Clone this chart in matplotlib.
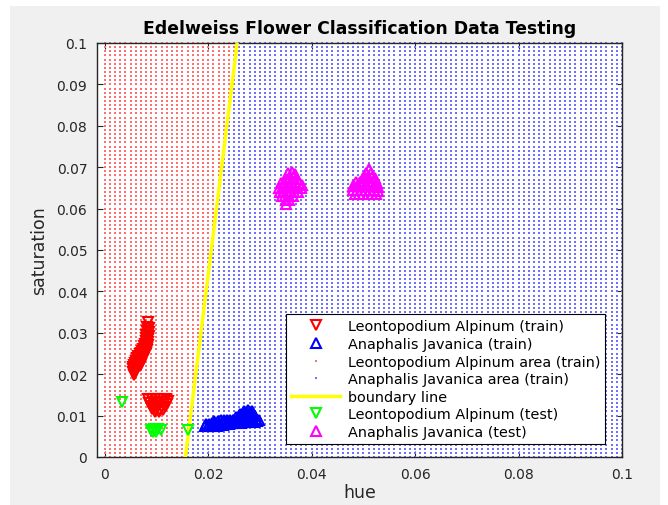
# plot.py
# edelweiss classification: train clusters, class areas and test points

import numpy as np
import matplotlib.pyplot as plt
from matplotlib.patches import Rectangle

# boundary line: hue = b0 + b1 * saturation
b0 = 0.0156
b1 = 0.1
grid_step = 0.001

leo_train_hue = [0.0083, 0.0082, 0.0086, 0.0081, 0.0085, 0.0080, 0.0085, 0.0079, 0.0084,
                 0.0079, 0.0083, 0.0078, 0.0083, 0.0076, 0.0082, 0.0074, 0.0081, 0.0072,
                 0.0080, 0.0070, 0.0078, 0.0068, 0.0076, 0.0065, 0.0071, 0.0062, 0.0068,
                 0.0074, 0.0060, 0.0066, 0.0071, 0.0058, 0.0064, 0.0070, 0.0056, 0.0062,
                 0.0068, 0.0055, 0.0061, 0.0054, 0.0060, 0.0055, 0.0058, 0.0056,
                 0.0084, 0.0091, 0.0098, 0.0105, 0.0112, 0.0119, 0.0122,
                 0.0086, 0.0093, 0.0100, 0.0107, 0.0114, 0.0120,
                 0.0089, 0.0096, 0.0103, 0.0110, 0.0117,
                 0.0092, 0.0099, 0.0106, 0.0113, 0.0097, 0.0104]
leo_train_sat = [0.0325, 0.0315, 0.0312, 0.0305, 0.0302, 0.0295, 0.0293, 0.0287, 0.0285,
                 0.0280, 0.0277, 0.0273, 0.0270, 0.0267, 0.0264, 0.0262, 0.0258, 0.0257,
                 0.0252, 0.0252, 0.0248, 0.0248, 0.0244, 0.0243, 0.0242, 0.0238, 0.0237,
                 0.0236, 0.0233, 0.0232, 0.0230, 0.0228, 0.0227, 0.0225, 0.0223, 0.0222,
                 0.0220, 0.0217, 0.0215, 0.0212, 0.0210, 0.0206, 0.0203, 0.0198,
                 0.0139, 0.0141, 0.0141, 0.0140, 0.0140, 0.0139, 0.0135,
                 0.0131, 0.0132, 0.0132, 0.0131, 0.0130, 0.0128,
                 0.0123, 0.0123, 0.0122, 0.0121, 0.0120,
                 0.0115, 0.0114, 0.0113, 0.0113, 0.0109, 0.0108]

ana_train_hue = [0.0193, 0.0199, 0.0205, 0.0211, 0.0217, 0.0223, 0.0229, 0.0235, 0.0241,
                 0.0196, 0.0202, 0.0208, 0.0214, 0.0220, 0.0226, 0.0232, 0.0238, 0.0244,
                 0.0212, 0.0218, 0.0224, 0.0230, 0.0236, 0.0242, 0.0248,
                 0.0246, 0.0252, 0.0258, 0.0264, 0.0270, 0.0276, 0.0282, 0.0288, 0.0294,
                 0.0250, 0.0256, 0.0262, 0.0268, 0.0274, 0.0280, 0.0286, 0.0292, 0.0298,
                 0.0254, 0.0260, 0.0266, 0.0272, 0.0278, 0.0284, 0.0290,
                 0.0262, 0.0268, 0.0274, 0.0280, 0.0286, 0.0270, 0.0277, 0.0284]
ana_train_sat = [0.0074, 0.0074, 0.0075, 0.0075, 0.0076, 0.0077, 0.0078, 0.0079, 0.0080,
                 0.0080, 0.0080, 0.0081, 0.0082, 0.0083, 0.0083, 0.0084, 0.0085, 0.0085,
                 0.0087, 0.0088, 0.0089, 0.0089, 0.0090, 0.0090, 0.0090,
                 0.0082, 0.0082, 0.0083, 0.0083, 0.0084, 0.0084, 0.0085, 0.0085, 0.0086,
                 0.0090, 0.0090, 0.0091, 0.0091, 0.0092, 0.0092, 0.0092, 0.0092, 0.0090,
                 0.0097, 0.0098, 0.0099, 0.0100, 0.0100, 0.0100, 0.0099,
                 0.0105, 0.0106, 0.0108, 0.0108, 0.0106, 0.0112, 0.0114, 0.0112]

leo_test_hue = [0.0033, 0.0090, 0.0096, 0.0102, 0.0108, 0.0094, 0.0100, 0.0160]
leo_test_sat = [0.0133, 0.0066, 0.0067, 0.0067, 0.0066, 0.0060, 0.0060, 0.0066]

ana_test_hue = [0.0355, 0.0362, 0.0368, 0.0350, 0.0357, 0.0364, 0.0371,
                0.0340, 0.0347, 0.0354, 0.0361, 0.0368, 0.0375, 0.0382,
                0.0337, 0.0344, 0.0351, 0.0358, 0.0365, 0.0372, 0.0379,
                0.0338, 0.0345, 0.0352, 0.0359, 0.0366, 0.0373,
                0.0342, 0.0349, 0.0356, 0.0363, 0.0350, 0.0357, 0.0350,
                0.0510, 0.0506, 0.0514, 0.0500, 0.0508, 0.0516, 0.0522,
                0.0486, 0.0494, 0.0502, 0.0510, 0.0518, 0.0526,
                0.0480, 0.0488, 0.0496, 0.0504, 0.0512, 0.0520, 0.0528,
                0.0480, 0.0488, 0.0496, 0.0504, 0.0512, 0.0520, 0.0528,
                0.0484, 0.0492, 0.0500, 0.0508, 0.0516, 0.0524]
ana_test_sat = [0.0685, 0.0688, 0.0683, 0.0672, 0.0675, 0.0676, 0.0672,
                0.0662, 0.0664, 0.0665, 0.0665, 0.0664, 0.0662, 0.0658,
                0.0650, 0.0652, 0.0653, 0.0654, 0.0653, 0.0652, 0.0650,
                0.0640, 0.0641, 0.0642, 0.0642, 0.0641, 0.0640,
                0.0630, 0.0630, 0.0631, 0.0630, 0.0620, 0.0620, 0.0612,
                0.0695, 0.0685, 0.0686, 0.0675, 0.0676, 0.0677, 0.0674,
                0.0664, 0.0665, 0.0666, 0.0666, 0.0666, 0.0663,
                0.0654, 0.0655, 0.0656, 0.0656, 0.0656, 0.0655, 0.0653,
                0.0644, 0.0645, 0.0645, 0.0645, 0.0645, 0.0645, 0.0643,
                0.0635, 0.0636, 0.0636, 0.0636, 0.0636, 0.0635]

# class area mesh
gh, gs = np.meshgrid(np.arange(0, 0.1 + 1e-9, grid_step), np.arange(0, 0.1 + 1e-9, grid_step))
gh, gs = gh.ravel(), gs.ravel()
is_leo = gh < b0 + b1 * gs

fig = plt.figure(figsize=(6.68, 5.06), dpi=100, facecolor='white')
fig.patches.append(Rectangle((10 / 668, 0), 650 / 668, 499 / 506, transform=fig.transFigure,
                             facecolor='#f0f0f0', edgecolor='none', zorder=-10))
ax = fig.add_axes([97 / 668, 48 / 506, 525 / 668, 414 / 506])

ms = 6.5
ax.plot(leo_train_hue, leo_train_sat, 'v', color='red', mfc='none', ms=ms, mew=1.5,
        label='Leontopodium Alpinum (train)', zorder=4)
ax.plot(ana_train_hue, ana_train_sat, '^', color='blue', mfc='none', ms=ms, mew=1.5,
        label='Anaphalis Javanica (train)', zorder=4)
ax.plot(gh[is_leo], gs[is_leo], 's', color='#ff7070', ms=1.5, mew=0, clip_on=False,
        label='Leontopodium Alpinum area (train)', zorder=2)
ax.plot(gh[~is_leo], gs[~is_leo], 's', color='#7070ff', ms=1.5, mew=0, clip_on=False,
        label='Anaphalis Javanica area (train)', zorder=2)
bl_sat = np.array([0, 0.1])
ax.plot(b0 + b1 * bl_sat, bl_sat, color='yellow', lw=2.5, label='boundary line', zorder=3)
ax.plot(leo_test_hue, leo_test_sat, 'v', color='#00ff00', mfc='none', ms=ms, mew=1.5,
        label='Leontopodium Alpinum (test)', zorder=5)
ax.plot(ana_test_hue, ana_test_sat, '^', color='magenta', mfc='none', ms=ms, mew=1.5,
        label='Anaphalis Javanica (test)', zorder=5)

ax.set_xlim(-0.0015, 0.1)
ax.set_ylim(0, 0.1)
ax.set_xticks([0, 0.02, 0.04, 0.06, 0.08, 0.1])
ax.set_xticklabels(['0', '0.02', '0.04', '0.06', '0.08', '0.1'])
ax.set_yticks(np.round(np.arange(0, 0.101, 0.01), 2))
ax.set_yticklabels(['0', '0.01', '0.02', '0.03', '0.04', '0.05', '0.06', '0.07', '0.08', '0.09', '0.1'])
ax.tick_params(direction='in', top=True, right=True, labelsize=10, colors='#262626',
               length=4, pad=7)
for s in ax.spines.values():
    s.set_color('#262626')
    s.set_linewidth(1.0)

ax.set_xlabel('hue', fontsize=12.5, color='#262626', labelpad=2)
ax.set_ylabel('saturation', fontsize=12.5, color='#262626', labelpad=6)
ax.set_title('Edelweiss Flower Classification Data Testing', fontsize=12.4, fontweight='bold',
             pad=7)

leg = ax.legend(loc='lower right', bbox_to_anchor=(0.968, 0.031), fontsize=10.4, fancybox=False,
                framealpha=1, edgecolor='black', labelspacing=0.25, handlelength=3.4,
                handletextpad=0.5, borderpad=0.35, borderaxespad=0)
leg.get_frame().set_linewidth(0.8)
leg.legend_handles[2].set_markersize(2)
leg.legend_handles[3].set_markersize(2)

plt.savefig('out.png', dpi=100)
